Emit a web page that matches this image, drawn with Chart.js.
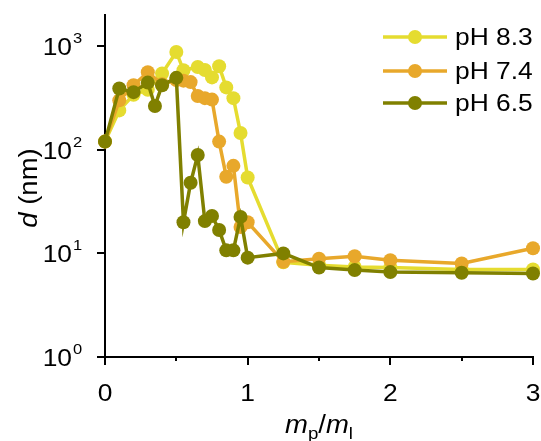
<!DOCTYPE html>
<html>
<head>
<meta charset="utf-8">
<script src="https://cdn.jsdelivr.net/npm/chart.js@4"></script>
<style>
  body { margin: 0; background: #fff; }
  canvas { display: block; }
</style>
</head>
<body>
<canvas id="sizeChart" width="541" height="441"></canvas>
<script>
// particle size d (nm) vs mass ratio mp/ml at three pH values
const seriesLabels = ["pH 8.3", "pH 7.4", "pH 6.5"];
const seriesColors = ["#e5dc30", "#e8a82b", "#808000"];

const ratio83 = [0, 0.1, 0.2, 0.3, 0.4, 0.5, 0.55, 0.65, 0.7, 0.75, 0.8, 0.85, 0.9, 0.95, 1.0, 1.25, 1.5, 1.75, 2, 2.5, 3];
const size83  = [120, 240, 340, 380, 545, 880, 585, 630, 590, 500, 640, 400, 315, 145, 54, 8.2, 7.7, 7.4, 7.3, 7.0, 7.0];

const ratio74 = [0, 0.1, 0.2, 0.3, 0.4, 0.5, 0.55, 0.6, 0.65, 0.7, 0.75, 0.8, 0.85, 0.9, 0.95, 1.0, 1.25, 1.5, 1.75, 2, 2.5, 3];
const size74  = [120, 300, 420, 560, 430, 470, 465, 450, 330, 315, 305, 120, 55, 70, 18, 20, 8.3, 8.9, 9.4, 8.6, 8.0, 11.2];

const ratio65 = [0, 0.1, 0.2, 0.3, 0.35, 0.4, 0.5, 0.55, 0.6, 0.65, 0.7, 0.75, 0.8, 0.85, 0.9, 0.95, 1.0, 1.25, 1.5, 1.75, 2, 2.5, 3];
const size65  = [120, 390, 360, 445, 265, 420, 495, 20, 48, 89, 20.5, 23, 16.8, 10.7, 10.7, 22.5, 9.1, 10, 7.3, 6.9, 6.6, 6.5, 6.4];

const xTicks = [0, 1, 2, 3];
const xMinorTicks = [0.5, 1.5, 2.5];
const yTickExps = [0, 1, 2, 3];

const FONT = "'Liberation Sans', Arial, sans-serif";
const STRETCH = 1.1;

function pts(xs, ys) {
  return xs.map((x, i) => ({x: x, y: ys[i]}));
}

const seriesData = [pts(ratio83, size83), pts(ratio74, size74), pts(ratio65, size65)];

// text drawn slightly wider than the font's normal proportions
function wideText(ctx, t, x, y) {
  ctx.save();
  ctx.translate(x, y);
  ctx.scale(STRETCH, 1);
  ctx.fillText(t, 0, 0);
  ctx.restore();
}

// axis labels, minor ticks, titles and legend
const decorPlugin = {
  id: 'decor',
  afterDraw(chart) {
    const ctx = chart.ctx;
    const xs = chart.scales.x, ys = chart.scales.y;
    const area = chart.chartArea;
    ctx.save();
    ctx.fillStyle = '#000';
    ctx.strokeStyle = '#000';

    // x minor ticks
    ctx.lineWidth = 2;
    xMinorTicks.forEach(v => {
      const px = Math.round(xs.getPixelForValue(v));
      ctx.beginPath();
      ctx.moveTo(px, area.bottom);
      ctx.lineTo(px, area.bottom + 4);
      ctx.stroke();
    });

    // x tick labels
    ctx.font = '24px ' + FONT;
    ctx.textAlign = 'center';
    ctx.textBaseline = 'alphabetic';
    xTicks.forEach(v => wideText(ctx, String(v), xs.getPixelForValue(v), 401));

    // y tick labels as powers of ten
    yTickExps.forEach(e => {
      const py = ys.getPixelForValue(Math.pow(10, e));
      ctx.font = '24px ' + FONT;
      ctx.textAlign = 'right';
      wideText(ctx, '10', 72, py + 9);
      ctx.font = '15px ' + FONT;
      ctx.textAlign = 'left';
      wideText(ctx, String(e), 73, py - 3);
    });

    // x title: m_p / m_l
    const big = '25px ' + FONT, bigIt = 'italic 25px ' + FONT, small = '17px ' + FONT;
    const parts = [
      {t: 'm', f: bigIt, dy: 0},
      {t: 'p', f: small, dy: 6},
      {t: '/', f: big, dy: 0},
      {t: 'm', f: bigIt, dy: 0},
      {t: 'l', f: small, dy: 6}
    ];
    let total = 0;
    parts.forEach(p => { ctx.font = p.f; p.w = ctx.measureText(p.t).width * STRETCH; total += p.w; });
    let cx = (area.left + area.right) / 2 - total / 2;
    ctx.textAlign = 'left';
    parts.forEach(p => {
      ctx.font = p.f;
      wideText(ctx, p.t, cx, 433 + p.dy);
      cx += p.w;
    });

    // y title: d (nm)
    ctx.save();
    ctx.translate(30, (area.top + area.bottom) / 2 + 2);
    ctx.rotate(-Math.PI / 2);
    ctx.textBaseline = 'middle';
    ctx.font = bigIt;
    const wd = ctx.measureText('d').width * STRETCH;
    ctx.font = big;
    const wr = ctx.measureText(' (nm)').width * STRETCH;
    const tx = -(wd + wr) / 2;
    ctx.font = bigIt;
    wideText(ctx, 'd', tx, 0);
    ctx.font = big;
    wideText(ctx, ' (nm)', tx + wd, 0);
    ctx.restore();

    // legend
    const rows = [37, 71, 103];
    ctx.textBaseline = 'middle';
    ctx.textAlign = 'left';
    ctx.font = '24px ' + FONT;
    seriesLabels.forEach((lab, i) => {
      const y = rows[i];
      ctx.strokeStyle = seriesColors[i];
      ctx.lineWidth = 3.5;
      ctx.beginPath();
      ctx.moveTo(383, y);
      ctx.lineTo(447, y);
      ctx.stroke();
      ctx.fillStyle = seriesColors[i];
      ctx.beginPath();
      ctx.arc(415, y, 7, 0, Math.PI * 2);
      ctx.fill();
      ctx.fillStyle = '#000';
      wideText(ctx, lab, 455, y + 1);
    });
    ctx.restore();
  }
};

new Chart(document.getElementById('sizeChart'), {
  type: 'scatter',
  data: {
    datasets: seriesLabels.map((lab, i) => ({
      label: lab,
      data: seriesData[i],
      showLine: true,
      borderColor: seriesColors[i],
      backgroundColor: seriesColors[i],
      borderWidth: 3.5,
      pointRadius: 7,
      pointBorderWidth: 0,
      pointBackgroundColor: seriesColors[i],
      clip: false,
      order: 3 - i
    }))
  },
  options: {
    responsive: false,
    animation: false,
    devicePixelRatio: 1,
    layout: { padding: { left: 0, right: 8, top: 15, bottom: 0 } },
    plugins: { legend: { display: false }, tooltip: { enabled: false } },
    scales: {
      x: {
        type: 'linear',
        min: 0, max: 3,
        afterBuildTicks: s => { s.ticks = xTicks.map(v => ({value: v})); },
        afterFit: s => { s.height = 84; },
        ticks: { display: false },
        grid: { display: true, drawOnChartArea: false, drawTicks: true, tickLength: 8, lineWidth: 2, color: '#000' },
        border: { display: true, width: 2, color: '#000' }
      },
      y: {
        type: 'logarithmic',
        min: 1, max: 2000,
        afterBuildTicks: s => { s.ticks = yTickExps.map(e => ({value: Math.pow(10, e)})); },
        afterFit: s => { s.width = 105; },
        ticks: { display: false },
        grid: { display: true, drawOnChartArea: false, drawTicks: true, tickLength: 8, lineWidth: 2, color: '#000' },
        border: { display: true, width: 2, color: '#000' }
      }
    }
  },
  plugins: [decorPlugin]
});
</script>
</body>
</html>
